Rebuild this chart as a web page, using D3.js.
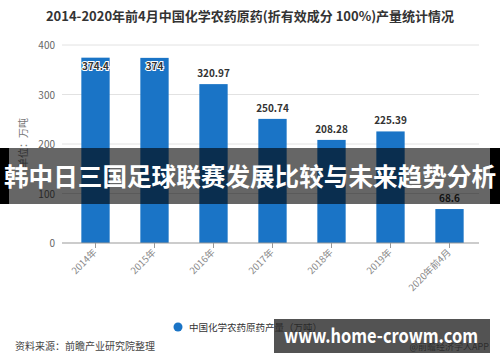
<!DOCTYPE html>
<html>
<head>
<meta charset="utf-8">
<script src="https://cdn.jsdelivr.net/npm/d3@7"></script>
<style>
  body { margin: 0; background: #fff; }
  svg { display: block; font-family: "Noto Sans CJK SC", "Noto Sans", sans-serif; }
</style>
</head>
<body>
<div id="chart"></div>
<script>
const width = 500;
const height = 362;

// data
const years = ["2014年", "2015年", "2016年", "2017年", "2018年", "2019年", "2020年前4月"];
const output = [374.4, 374, 320.97, 250.74, 208.28, 225.39, 68.6];
const yTicks = [0, 100, 200, 300, 400];

const margin = {top: 45, right: 21, bottom: 118, left: 66};

const x = d3.scaleBand()
    .domain(years)
    .range([margin.left, width - margin.right])
    .paddingInner(0.52)
    .paddingOuter(0.26);

const y = d3.scaleLinear()
    .domain([0, 400])
    .range([height - margin.bottom - 1, margin.top]);

const svg = d3.select("#chart")
    .append("svg")
    .attr("width", width)
    .attr("height", height);

svg.append("text")
    .attr("x", 250)
    .attr("y", 21)
    .attr("text-anchor", "middle")
    .attr("font-size", 13)
    .attr("font-weight", "bold")
    .attr("fill", "#333")
    .text("2014-2020年前4月中国化学农药原药(折有效成分 100%)产量统计情况");

// grid + y labels
const yAxis = svg.append("g");
yAxis.selectAll("line")
    .data(yTicks.filter(d => d > 0))
    .join("line")
    .attr("x1", 62).attr("x2", width - margin.right)
    .attr("y1", d => y(d)).attr("y2", d => y(d))
    .attr("stroke", "#e2e2e2");
yAxis.selectAll("text")
    .data(yTicks)
    .join("text")
    .attr("x", 55)
    .attr("y", d => y(d) + 4)
    .attr("text-anchor", "end")
    .attr("font-size", 10)
    .attr("fill", "#666")
    .text(d => d);

svg.append("text")
    .attr("transform", `translate(27,${143}) rotate(-90)`)
    .attr("text-anchor", "middle")
    .attr("font-size", 10)
    .attr("fill", "#777")
    .text("单位：万吨");

// bars
svg.append("g")
    .selectAll("rect")
    .data(output)
    .join("rect")
    .attr("x", (d, i) => x(years[i]))
    .attr("width", x.bandwidth())
    .attr("y", d => y(d))
    .attr("height", d => y(0) - y(d))
    .attr("fill", "#1a74c6");

// value labels, the two tallest sit inside the bar top
svg.append("g")
    .selectAll("text")
    .data(output)
    .join("text")
    .attr("x", (d, i) => x(years[i]) + x.bandwidth() / 2)
    .attr("y", d => d > 360 ? y(d) + 12 : y(d) - 7)
    .attr("text-anchor", "middle")
    .attr("font-size", 10)
    .attr("font-weight", "bold")
    .attr("fill", "#333")
    .attr("stroke", d => d > 360 ? "#fff" : "none")
    .attr("stroke-width", 2)
    .attr("paint-order", "stroke")
    .text(d => d);

// x axis
const xAxis = svg.append("g").attr("transform", `translate(0,${y(0)})`);
xAxis.append("line")
    .attr("x1", 62).attr("x2", width - margin.right)
    .attr("stroke", "#999");
const tick = xAxis.selectAll("g")
    .data(years)
    .join("g")
    .attr("transform", d => `translate(${x(d) + x.bandwidth() / 2},0)`);
tick.append("line").attr("y2", 5).attr("stroke", "#999");
tick.append("text")
    .attr("transform", "translate(2,10) rotate(-45)")
    .attr("text-anchor", "end")
    .attr("font-size", 9.5)
    .attr("fill", "#888")
    .text(d => d);

// legend
svg.append("circle").attr("cx", 178).attr("cy", 327).attr("r", 4.5).attr("fill", "#1a74c6");
svg.append("text")
    .attr("x", 189).attr("y", 331)
    .attr("font-size", 9.5)
    .attr("fill", "#333")
    .text("中国化学农药原药产量（万吨）");

svg.append("text")
    .attr("x", 15).attr("y", 350)
    .attr("font-size", 10)
    .attr("fill", "#444")
    .text("资料来源：前瞻产业研究院整理");

svg.append("text")
    .attr("x", 489).attr("y", 350)
    .attr("text-anchor", "end")
    .attr("font-size", 9)
    .attr("fill", "#444")
    .text("@前瞻经济学人APP");

// overlay banner
svg.append("rect").attr("x", 0).attr("y", 148).attr("width", width).attr("height", 56)
    .attr("fill", "rgba(0,0,0,0.6)");
svg.append("rect").attr("x", 0).attr("y", 148).attr("width", 9).attr("height", 56).attr("fill", "#000");
svg.append("rect").attr("x", 490).attr("y", 148).attr("width", 10).attr("height", 56).attr("fill", "#000");
svg.append("text")
    .attr("x", 250).attr("y", 186)
    .attr("text-anchor", "middle")
    .attr("font-size", 25)
    .attr("font-weight", "bold")
    .attr("fill", "#fff")
    .attr("textLength", 492)
    .attr("lengthAdjust", "spacingAndGlyphs")
    .text("韩中日三国足球联赛发展比较与未来趋势分析");

// site box
svg.append("rect").attr("x", 274).attr("y", 319).attr("width", 216).attr("height", 34)
    .attr("fill", "rgba(40,40,40,0.8)");
svg.append("text")
    .attr("x", 381).attr("y", 343)
    .attr("text-anchor", "middle")
    .attr("font-size", 20)
    .attr("font-weight", "bold")
    .attr("fill", "#fff")
    .attr("textLength", 194)
    .attr("lengthAdjust", "spacingAndGlyphs")
    .text("www.home-crowm.com");
</script>
</body>
</html>
